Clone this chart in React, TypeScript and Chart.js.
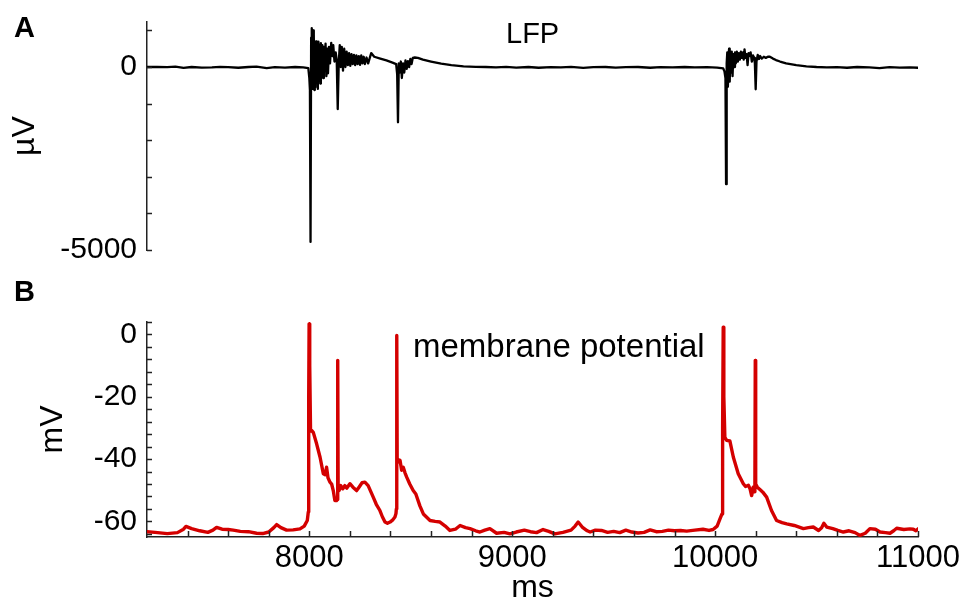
import React, { useEffect, useRef } from 'react';
import { Chart, registerables } from 'chart.js';

Chart.register(...registerables);

// ---------- data ----------
const lfpTime = [
  7200, 7250, 7300, 7340, 7380, 7420, 7470, 7520, 7560, 7600, 7650, 7700, 7740, 7790, 7830, 7880, 7930, 7970, 7995,
  8000, 8003, 8006, 8009, 8011, 8013, 8015, 8017, 8019, 8021, 8023, 8025, 8027, 8030, 8033, 8036, 8039, 8042, 8045,
  8048, 8051, 8054, 8057, 8060, 8064, 8068, 8072, 8076, 8080, 8084, 8088, 8092, 8097, 8102, 8108, 8113, 8118, 8124,
  8130, 8135, 8140, 8145, 8150, 8155, 8160, 8166, 8172, 8178, 8184, 8190, 8196, 8202, 8208, 8214, 8220, 8226, 8232,
  8238, 8244, 8250, 8256, 8262, 8268, 8274, 8282, 8290, 8298, 8305, 8320, 8350, 8380, 8410, 8428, 8433, 8437, 8441,
  8446, 8451, 8456, 8462, 8468, 8474, 8480, 8486, 8492, 8498, 8504, 8510, 8520, 8535, 8560, 8600, 8650, 8700, 8760,
  8820, 8870, 8920, 8970, 9020, 9080, 9130, 9190, 9240, 9290, 9350, 9400, 9460, 9510, 9560, 9620, 9680, 9730, 9790,
  9850, 9900, 9960, 10010, 10040, 10046, 10051, 10054, 10057, 10060, 10063, 10066, 10069, 10072, 10075, 10078, 10082,
  10086, 10090, 10094, 10098, 10102, 10107, 10112, 10117, 10122, 10127, 10132, 10137, 10141, 10145, 10150, 10155,
  10160, 10165, 10170, 10175, 10181, 10187, 10192, 10196, 10200, 10204, 10210, 10216, 10222, 10230, 10240, 10250,
  10260, 10270, 10285, 10300, 10320, 10350, 10400, 10450, 10500, 10550, 10600, 10650, 10700, 10760, 10810, 10860,
  10910, 10960, 11000,
];
const lfpValue = [
  0, 5, -5, 10, -25, 0, -15, -10, 5, -5, -20, 0, 10, -30, -5, -15, 0, -10, -30,
  -300, -630, -4780, 800, 1060, -500, 700, -600, 1000, -400, 900, -630, 500, -550, 700, -300, 650, -600, 690,
  -200, 600, -450, 650, -150, 600, -300, 550, -100, 640, -250, 500, -170, 550, 100, 660, 300, 600, 150,
  400, 200, -1150, 100, 600, 0, 550, -100, 500, 0, 420, 50, 380, 30, 350, 80, 330, 50, 320,
  80, 300, 60, 320, 100, 280, 80, 260, 100, 250, 380, 280, 230, 180, 120, 80, -200, -1510, 100,
  -150, 150, -300, 100, -150, 180, -50, 160, 0, 220, 80, 250, 260, 250, 200, 150, 90, 50, 20,
  5, 0, -10, 5, -15, 0, -20, -5, -10, 5, -25, -5, 0, -15, -5, 0, -20, -5, -10,
  0, -10, -5, -15, -40, -120, -300, -3200, 100, 400, -540, 300, 500, -400, 300, -150, 420,
  -250, 350, 0, 400, 100, 420, 150, 380, 200, 420, 250, 400, 200, 480, 250, 350,
  50, 380, 300, 400, 150, 320, 250, 100, -610, 150, 330, 220, 300, 230, 280, 250,
  280, 280, 230, 190, 150, 100, 50, 20, 0, -10, -5, -20, 0, -10, -30, -5,
  -15, -10, -20,
];

const vmTime = [
  7200, 7240, 7300, 7350, 7380, 7392, 7420, 7460, 7500, 7525, 7543, 7570, 7600, 7625, 7660, 7700, 7740, 7770, 7800,
  7825, 7839, 7860, 7888, 7920, 7954, 7975, 7990, 7995, 7997, 7999, 8002, 8006, 8012, 8020, 8036, 8053, 8069, 8078,
  8085, 8092, 8102, 8110, 8118, 8126, 8134, 8138, 8140, 8142, 8147, 8155, 8165, 8175, 8185, 8200, 8215, 8233, 8245,
  8260, 8274, 8290, 8315, 8330, 8348, 8360, 8373, 8385, 8398, 8410, 8422, 8427, 8429, 8431, 8433, 8437, 8447, 8455,
  8463, 8472, 8480, 8495, 8512, 8525, 8545, 8562, 8595, 8620, 8644, 8670, 8693, 8720, 8743, 8770, 8792, 8820, 8841,
  8865, 8890, 8923, 8960, 8989, 9020, 9060, 9090, 9120, 9152, 9180, 9210, 9250, 9290, 9310, 9325, 9345, 9370, 9384,
  9410, 9440, 9470, 9500, 9530, 9560, 9590, 9620, 9650, 9680, 9710, 9740, 9770, 9800, 9830, 9860, 9900, 9940, 9970,
  9990, 10010, 10024, 10034, 10037, 10040, 10043, 10048, 10057, 10073, 10090, 10114, 10139, 10150, 10164, 10172,
  10180, 10188, 10194, 10196, 10198, 10200, 10208, 10225, 10235, 10254, 10278, 10303, 10330, 10353, 10390, 10435,
  10460, 10484, 10510, 10525, 10536, 10550, 10580, 10605, 10632, 10660, 10690, 10714, 10740, 10763, 10790, 10813,
  10840, 10862, 10880, 10895, 10930, 10960, 10977, 10990, 11000,
];
const vmValue = [
  -63.3, -63.5, -63.9, -63.6, -62.5, -61.6, -62.3, -63.0, -63.5, -62.8, -61.9, -62.5, -62.6, -62.8, -63.2, -63.3, -63.8, -63.9, -63.4,
  -62.0, -61.0, -62.0, -62.8, -62.7, -62.4, -61.5, -59.7, -57.0, -20.0, 3.4, -10.0, -31.0, -30.8, -31.5, -35.1, -39.4, -44.7, -45.0,
  -42.6, -46.0, -47.4, -48.0, -50.1, -53.3, -53.3, -53.0, -8.3, -48.0, -50.1, -48.5, -49.5, -48.5, -49.3, -47.9, -49.0, -50.1, -49.0,
  -47.6, -47.4, -48.5, -52.2, -54.5, -56.5, -58.5, -60.2, -60.6, -60.2, -59.6, -58.6, -57.5, -56.0, -0.3, -40.0, -41.0, -40.4, -43.6,
  -42.6, -44.5, -45.8, -48.0, -50.1, -51.2, -55.0, -57.6, -59.7, -60.0, -60.2, -61.5, -62.9, -62.5, -61.3, -62.0, -62.3, -63.0, -63.4,
  -62.8, -62.3, -63.8, -63.5, -64.0, -63.4, -62.8, -63.3, -63.6, -62.6, -63.2, -64.0, -63.5, -62.8, -61.5, -60.2, -61.8, -63.0, -63.4,
  -62.8, -62.9, -63.5, -63.2, -63.6, -62.8, -63.4, -63.7, -63.5, -62.7, -63.3, -63.2, -62.8, -63.0, -62.9, -63.1, -62.8, -62.5, -62.9,
  -62.6, -61.5, -59.2, -57.6, -30.0, 2.3, -20.0, -33.0, -34.0, -34.2, -39.4, -44.7, -47.9, -48.8, -48.4, -49.5,
  -51.7, -49.0, -50.5, -50.0, -8.3, -48.0, -49.0, -50.0, -50.6, -52.2, -56.5, -59.7, -60.4, -60.8, -61.3, -62.3,
  -62.0, -61.8, -62.9, -62.0, -60.6, -61.8, -62.3, -62.9, -63.4, -63.0, -63.6, -64.5, -63.8, -62.3, -62.5, -63.4,
  -63.6, -63.8, -63.0, -62.2, -62.6, -62.4, -62.5, -63.0, -62.4,
];

const timeTicks = [7400, 7600, 7800, 8000, 8200, 8400, 8600, 8800, 9000, 9200, 9400, 9600, 9800, 10000, 10200, 10400, 10600, 10800, 11000];
const timeLabels = [8000, 9000, 10000, 11000];
const lfpTicks = [-5000, -4000, -3000, -2000, -1000, 0, 1000];
const lfpLabels = [-5000, 0];
const vmTicks = [-64, -60, -56, -52, -48, -44, -40, -36, -32, -28, -24, -20, -16, -12, -8, -4, 0, 4];
const vmLabels = [-60, -40, -20, 0];

// ---------- styling ----------
const FONT = '"Liberation Sans", Arial, Helvetica, sans-serif';
const AXIS = '#222222';
const LFP_COLOR = '#000000';
const VM_COLOR = '#d40000';

Chart.defaults.font.family = FONT;
Chart.defaults.color = '#000';

const inwardTicks = {
  id: 'inwardTicks',
  afterDatasetsDraw(chart: any) {
    const { ctx, chartArea } = chart;
    ctx.save();
    ctx.strokeStyle = AXIS;
    ctx.lineWidth = 1.5;
    const ys = chart.scales.y;
    ys.ticks.forEach((t: any) => {
      const py = Math.round(ys.getPixelForValue(t.value)) + 0.5;
      ctx.beginPath();
      ctx.moveTo(chartArea.left, py);
      ctx.lineTo(chartArea.left + 5, py);
      ctx.stroke();
    });
    const xs = chart.scales.x;
    if (xs.options.display) {
      xs.ticks.forEach((t: any) => {
        const px = Math.round(xs.getPixelForValue(t.value)) + 0.5;
        ctx.beginPath();
        ctx.moveTo(px, chartArea.bottom);
        ctx.lineTo(px, chartArea.bottom - 6);
        ctx.stroke();
      });
    }
    ctx.restore();
  },
};

const panelText = {
  id: 'panelText',
  afterDraw(chart: any) {
    const items = chart.options.plugins.panelText?.items || [];
    const { ctx } = chart;
    ctx.save();
    ctx.fillStyle = '#000';
    ctx.textBaseline = 'alphabetic';
    ctx.textAlign = 'left';
    items.forEach((it: any) => {
      ctx.font = it.font;
      ctx.fillText(it.text, it.x, it.y);
    });
    ctx.restore();
  },
};

function makeChart(
  canvas: HTMLCanvasElement,
  cfg: {
    times: number[];
    values: number[];
    color: string;
    width: number;
    yMin: number;
    yMax: number;
    yTicks: number[];
    yLabels: number[];
    yTitle: string;
    yTitlePad: number;
    padTop: number;
    padBottom: number;
    showX: boolean;
    texts: any[];
  }
) {
  const data = cfg.times.map((t, i) => ({ x: t, y: cfg.values[i] }));
  return new Chart(canvas, {
    type: 'line',
    data: {
      datasets: [
        {
          data,
          borderColor: cfg.color,
          borderWidth: cfg.width,
          pointRadius: 0,
          tension: 0,
          borderJoinStyle: 'round',
          borderCapStyle: 'round',
          fill: false,
        },
      ],
    },
    options: {
      animation: false,
      responsive: false,
      maintainAspectRatio: false,
      devicePixelRatio: 1,
      layout: { padding: { left: 0, right: 61, top: cfg.padTop, bottom: cfg.padBottom } },
      plugins: {
        legend: { display: false },
        tooltip: { enabled: false },
        panelText: { items: cfg.texts },
      } as any,
      scales: {
        x: {
          type: 'linear',
          display: cfg.showX,
          min: 7200,
          max: 11000,
          afterBuildTicks: (scale: any) => {
            scale.ticks = timeTicks.map((v) => ({ value: v }));
          },
          afterFit: (scale: any) => {
            if (cfg.showX) scale.height = 65;
          },
          grid: { display: false, drawTicks: false },
          border: { display: true, color: AXIS, width: 1.5 },
          ticks: {
            padding: 3,
            maxRotation: 0,
            autoSkip: false,
            font: { size: 31, family: FONT },
            color: '#000',
            callback: (v: any) => (timeLabels.includes(Number(v)) ? String(v) : ''),
          },
          title: {
            display: true,
            text: 'ms',
            color: '#000',
            font: { size: 32, family: FONT, lineHeight: 1 },
            padding: { top: 0, bottom: -2 },
          },
        },
        y: {
          type: 'linear',
          min: cfg.yMin,
          max: cfg.yMax,
          afterBuildTicks: (scale: any) => {
            scale.ticks = cfg.yTicks.map((v) => ({ value: v }));
          },
          afterFit: (scale: any) => {
            scale.width = 147;
            scale.paddingTop = 0;
            scale.paddingBottom = 0;
          },
          grid: { display: false, drawTicks: false },
          border: { display: true, color: AXIS, width: 1.5 },
          ticks: {
            padding: 10,
            autoSkip: false,
            font: { size: 30, family: FONT },
            color: '#000',
            callback: (v: any) => (cfg.yLabels.includes(Number(v)) ? String(v) : ''),
          },
          title: {
            display: true,
            text: cfg.yTitle,
            color: '#000',
            font: { size: 32, family: FONT, lineHeight: 1.2 },
            padding: { top: cfg.yTitlePad, bottom: 0 },
          },
        },
      },
    },
    plugins: [inwardTicks, panelText],
  } as any);
}

export default function App() {
  const refA = useRef<HTMLCanvasElement | null>(null);
  const refB = useRef<HTMLCanvasElement | null>(null);

  useEffect(() => {
    document.body.style.margin = '0';
    const a = makeChart(refA.current!, {
      times: lfpTime,
      values: lfpValue,
      color: LFP_COLOR,
      width: 2.3,
      yMin: -5000,
      yMax: 1230,
      yTicks: lfpTicks,
      yLabels: lfpLabels,
      yTitle: '\u00b5V',
      yTitlePad: 6,
      padTop: 22,
      padBottom: 30,
      showX: false,
      texts: [
        { text: 'A', x: 14, y: 37, font: `bold 29px ${FONT}` },
        { text: 'LFP', x: 506, y: 43, font: `29px ${FONT}` },
      ],
    });
    const b = makeChart(refB.current!, {
      times: vmTime,
      values: vmValue,
      color: VM_COLOR,
      width: 3.4,
      yMin: -65,
      yMax: 4,
      yTicks: vmTicks,
      yLabels: vmLabels,
      yTitle: 'mV',
      yTitlePad: 34,
      padTop: 42,
      padBottom: 0,
      showX: true,
      texts: [
        { text: 'B', x: 14, y: 21, font: `bold 29px ${FONT}` },
        { text: 'membrane potential', x: 413, y: 77, font: `33px ${FONT}` },
      ],
    });
    return () => {
      a.destroy();
      b.destroy();
    };
  }, []);

  return (
    <div style={{ position: 'fixed', left: 0, top: 0, width: 979, height: 602, background: '#fff' }}>
      <canvas ref={refA} width={979} height={280} style={{ position: 'absolute', left: 0, top: 0, width: 979, height: 280 }} />
      <canvas ref={refB} width={979} height={322} style={{ position: 'absolute', left: 0, top: 280, width: 979, height: 322 }} />
    </div>
  );
}
